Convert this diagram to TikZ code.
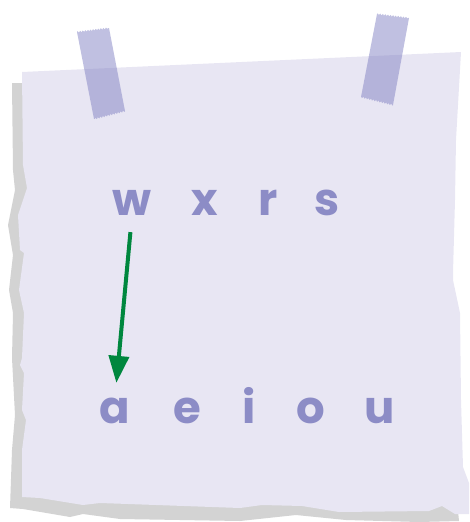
\documentclass[tikz,border=0pt]{standalone}
\usepackage{fontspec}
\setmainfont{Poppins}
\usetikzlibrary{arrows.meta,decorations.pathmorphing}
\definecolor{paperc}{RGB}{232,230,243}
\definecolor{shadowc}{RGB}{211,211,211}
\definecolor{tapec}{RGB}{130,130,195}
\definecolor{letterc}{RGB}{140,140,198}
\definecolor{arrowc}{RGB}{0,135,62}
\tikzset{
  letter/.style={anchor=base, inner sep=0pt, text height=25pt, text depth=0pt,
    text=letterc, font=\fontsize{45}{45}\selectfont\bfseries},
  tape/.style={fill=tapec, fill opacity=0.5},
  zz/.style={decoration={zigzag, amplitude=0.8pt, segment length=2.6pt}},
  pointer/.style={draw=arrowc, line width=4pt, -{Triangle[length=27pt,width=20pt]}}
}
\begin{document}
\begin{tikzpicture}[x=1pt,y=-1pt]
\useasboundingbox (0,0) rectangle (469,522);
% shadow
\fill[shadowc] (12,83) -- (13,170) -- (15,190) -- (8,225) -- (13,255) -- (9,290)
  -- (13,313) -- (12,358) -- (15,415) -- (12,450) -- (10,508) -- (23,509)
  -- (70,517) -- (83,514) -- (120,519) -- (240,521) -- (296,515) -- (346,520)
  -- (419,522) -- (459,521) -- (455,480) -- (440,100) -- (22,83) -- cycle;
% paper
\fill[paperc] (22,72) -- (23,165) -- (27,188) -- (18,215) -- (20,250) -- (24,253)
  -- (19,290) -- (24,313) -- (22,358) -- (20,365) -- (24,373) -- (22,410)
  -- (26,420) -- (22,450) -- (22,497) -- (40,498) -- (83,505) -- (100,503)
  -- (240,508) -- (262,505) -- (302,506) -- (339,512) -- (429,511) -- (442,506)
  -- (455,514) -- (469,514) -- (469,483) -- (463,467) -- (461,400) -- (460,313)
  -- (453,280) -- (453,273) -- (455,200) -- (456,140) -- (461,52) -- cycle;
% tapes
\fill[tape] (77,32) decorate[zz]{-- (109,28)} -- (125,111) decorate[zz]{-- (94,119)} -- cycle;
\fill[tape] (377,14) decorate[zz]{-- (409,18)} -- (393,105) decorate[zz]{-- (361,97)} -- cycle;
% letters
\node[letter] (w) at (132,215) {w};
\node[letter] (x) at (205,215) {x};
\node[letter] (r) at (268,215) {r};
\node[letter] (s) at (327,215) {s};
\node[letter] (a) at (115,423) {a};
\node[letter] (e) at (187,423) {e};
\node[letter] (i) at (249,423) {i};
\node[letter] (o) at (311,423) {o};
\node[letter] (u) at (380,423) {u};
% arrow
\draw[pointer, shorten <=17pt, shorten >=15pt] (w.south) -- (a.north);
\end{tikzpicture}
\end{document}
